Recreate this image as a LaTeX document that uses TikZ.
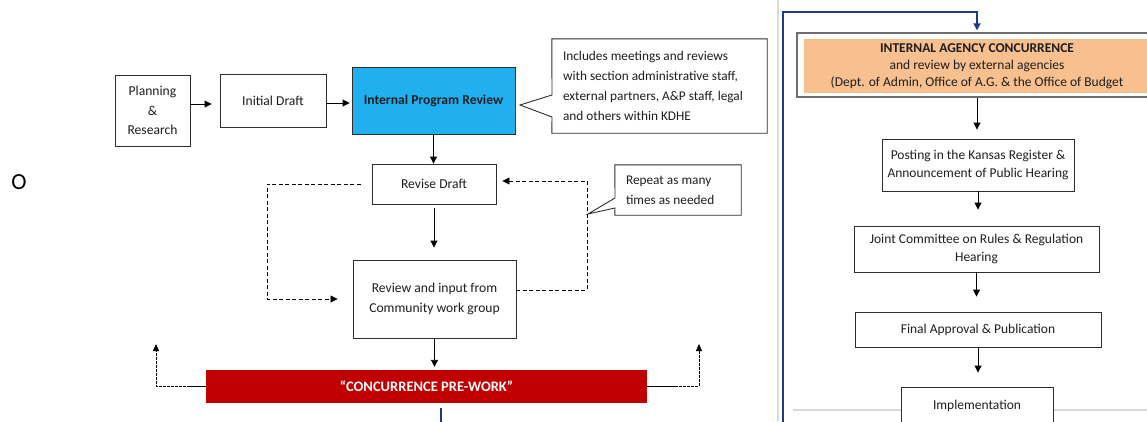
\documentclass[tikz,border=0pt]{standalone}
\usepackage{fontspec}
\setmainfont{Carlito}
\usetikzlibrary{arrows.meta,calc}
\definecolor{txt}{RGB}{30,30,30}
\definecolor{boxline}{RGB}{45,45,45}
\definecolor{iprblue}{RGB}{32,176,240}
\definecolor{barred}{RGB}{192,0,0}
\definecolor{peach}{RGB}{248,192,142}
\definecolor{navy}{RGB}{30,58,135}
\definecolor{frame}{RGB}{110,110,110}
\definecolor{paleline}{RGB}{218,218,222}
\tikzset{
  stepbox/.style={draw=boxline, line width=0.9pt, fill=white, inner sep=0pt, align=center, text=txt,
    font=\fontsize{13.6}{19.5}\selectfont},
  rbox/.style={stepbox, font=\fontsize{13.5}{18}\selectfont},
  notetext/.style={inner sep=0pt, align=flush left, text=txt, font=\fontsize{13.3}{20}\selectfont},
  arr/.style={-{Triangle[length=7pt,width=7pt]}, line width=0.9pt, draw=black},
  loop/.style={-{Triangle[length=7pt,width=7pt]}, line width=0.8pt, draw=black, dash pattern=on 4pt off 2.5pt},
  side/.style={-{Triangle[length=7pt,width=6pt]}, line width=0.9pt, draw=black, dash pattern=on 3pt off 1pt},
  bluelink/.style={-{Triangle[length=7pt,width=7pt]}, line width=2.2pt, draw=navy},
}
\begin{document}
\begin{tikzpicture}[x=1pt,y=-1pt]
\useasboundingbox (0,0) rectangle (1147,421);
\clip (0,0) rectangle (1147,421);
\fill[white] (0,0) rectangle (1147,421);

% page separators
\draw[paleline, line width=1.2pt] (778,0) -- (778,421);
\draw[paleline, line width=1.6pt] (793,410) -- (1147,410);

% stray bullet
\node[text=black, inner sep=0pt, font=\fontsize{23}{23}\selectfont] (bullet) at (19,182) {O};

% left panel
\node[stepbox, minimum width=75pt, minimum height=71pt] (plan) at (152.5,110.5) {Planning\\\&\\Research};
\node[stepbox, minimum width=106pt, minimum height=53pt] (init) at (273,100.5) {Initial Draft};
\node[stepbox, fill=iprblue, minimum width=163pt, minimum height=67pt, font=\fontsize{13.6}{19.5}\selectfont\bfseries] (ipr) at (433.5,100.5) {Internal Program Review};
\node[notetext, minimum width=215pt, minimum height=94pt, text width=193pt] (note1) at (659.5,86)
  {Includes meetings and reviews\\with section administrative staff,\\external partners, A\&P staff, legal\\and others within KDHE};
\draw[boxline, line width=0.9pt] (note1.north west) -- (note1.north east) -- (note1.south east) -- (note1.south west)
  -- (552,117) -- (520,105) -- (552,95) -- cycle;

\node[stepbox, minimum width=124pt, minimum height=40pt] (revise) at (434,184) {Revise Draft};
\node[stepbox, minimum width=163pt, minimum height=78pt] (review) at (434.5,299) {Review and input from\\Community work group};
\node[fill=barred, text=white, inner sep=0pt, minimum width=441pt, minimum height=33pt,
  font=\fontsize{14.5}{15}\selectfont\bfseries] (bar) at (426.5,386.5) {“CONCURRENCE PRE-WORK”};

\node[notetext, minimum width=126pt, minimum height=50pt, text width=104pt] (note2) at (678,190)
  {Repeat as many\\times as needed};
\draw[boxline, line width=0.9pt] (note2.north west) -- (note2.north east) -- (note2.south east) -- (note2.south west)
  -- (615,208) -- (588,214) -- (615,198) -- cycle;

\draw[arr, shorten >=8pt] (plan.east |- 0,104) -- (init.west |- 0,104);
\draw[arr, shorten >=2pt] (init.east |- 0,103) -- (ipr.west |- 0,103);
\draw[arr] (ipr.south) -- (ipr.south |- revise.north);
\draw[arr, shorten <=4pt, shorten >=12pt] (revise.south) -- (revise.south |- review.north);
\draw[arr, shorten >=3pt] (review.south) -- (review.south |- bar.north);

\draw[loop, shorten <=11pt, shorten >=15pt] (revise.west) -- (267,184) -- (267,299) -- (review.west);
\draw[loop, shorten >=6pt] ([yshift=9pt]review.east) -- (587,290) -- (587,181) -- (revise.east |- 0,181);

\draw[side] (bar.west) -- (156,386.5) -- (156,344);
\draw[side] (bar.east) -- (699,386.5) -- (699,344);
\draw[black, line width=0.9pt] (bar.west) -- (187,386.5);
\draw[black, line width=0.9pt] (bar.east) -- (676,386.5);

% right panel
\node[draw=frame, line width=1.3pt, fill=white, minimum width=360pt, minimum height=64pt, inner sep=0pt] (iac) at (977,65) {};
\fill[peach] ($(iac.north west)+(8,7)$) rectangle ($(iac.south east)+(-8,-5)$);
\node[inner sep=0pt, align=center, text=txt, font=\fontsize{13.5}{17}\selectfont] (iactext) at (977,66)
  {\textbf{INTERNAL AGENCY CONCURRENCE}\\and review by external agencies\\(Dept. of Admin, Office of A.G. \& the Office of Budget};

\node[rbox, minimum width=192pt, minimum height=52pt] (post) at (978,165) {Posting in the Kansas Register \&\\Announcement of Public Hearing};
\node[rbox, minimum width=245pt, minimum height=46pt] (joint) at (976.5,249) {Joint Committee on Rules \& Regulation\\Hearing};
\node[rbox, minimum width=246pt, minimum height=35pt] (final) at (978,329.5) {Final Approval \& Publication};
\node[rbox, minimum width=152pt, minimum height=38pt] (impl) at (977,406) {Implementation};

\draw[arr, shorten >=9pt] (iac.south) -- (iac.south |- post.north);
\draw[arr, shorten >=16pt] (post.south) -- (post.south |- joint.north);
\draw[arr, shorten >=15pt] (joint.south) -- (joint.south |- final.north);
\draw[arr, shorten >=14pt] (final.south) -- (final.south |- impl.north);

% link from pre-work to concurrence (continues across the cut)
\coordinate (cutleft) at (441,430);
\coordinate (cutright) at (783,430);
\draw[navy, line width=2.2pt, shorten <=5pt] (bar.south -| cutleft) -- (cutleft);
\draw[bluelink, shorten >=2pt] (cutright) -- (783,12) -- (977,12) -- (iac.north);
\end{tikzpicture}
\end{document}
